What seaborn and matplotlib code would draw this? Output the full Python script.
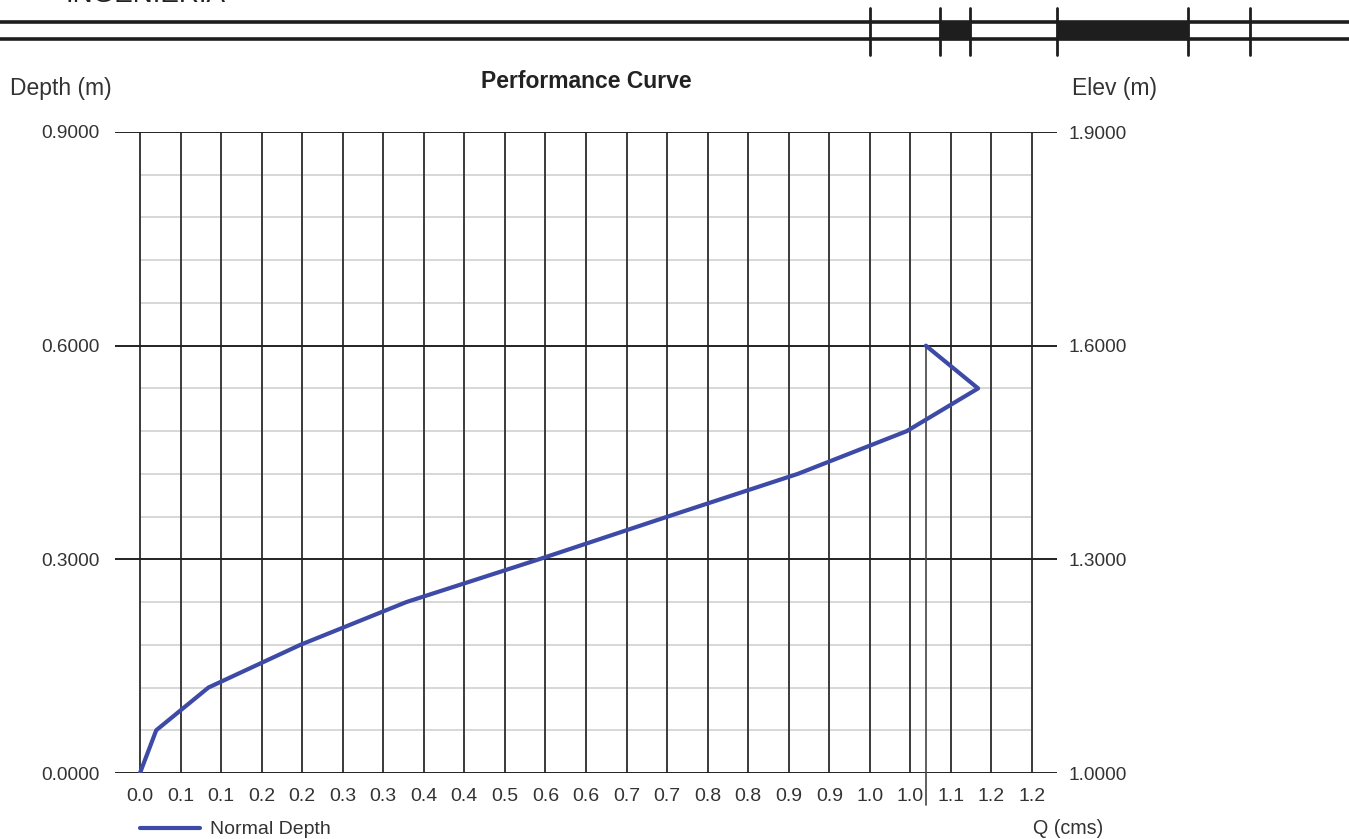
import matplotlib
matplotlib.use("Agg")
import matplotlib.pyplot as plt
import seaborn as sns
import pandas as pd

# rating curve
q_cms = [0.0, 0.022, 0.093, 0.218, 0.362, 0.542, 0.717, 0.894, 1.042, 1.139, 1.068]
depth_m = [0.0, 0.06, 0.12, 0.18, 0.24, 0.30, 0.36, 0.42, 0.48, 0.54, 0.60]
q_marker = 1.068

q_step = 0.0551
q_labels = ["0.0", "0.1", "0.1", "0.2", "0.2", "0.3", "0.3", "0.4", "0.4", "0.5", "0.6", "0.6",
            "0.7", "0.7", "0.8", "0.8", "0.9", "0.9", "1.0", "1.0", "1.1", "1.2", "1.2"]
depth_major = [0.0, 0.3, 0.6, 0.9]
depth_minor = [0.06, 0.12, 0.18, 0.24, 0.36, 0.42, 0.48, 0.54, 0.66, 0.72, 0.78, 0.84]
elev_ticks = [1.0, 1.3, 1.6, 1.9]


def plot_curve():
    sns.set_style("white")
    plt.rcParams["font.family"] = ["Liberation Sans", "DejaVu Sans"]
    txt = "#333333"

    fig = plt.figure(figsize=(13.49, 8.39), dpi=100)
    ax = fig.add_axes([115 / 1349, 1 - 773 / 839, 942 / 1349, 641 / 839])

    q_ticks = [i * q_step for i in range(len(q_labels))]
    qmax = q_ticks[-1]

    # grid
    for q in q_ticks:
        ax.plot([q, q], [0, 0.9], color="#3a3a3a", lw=1.4, zorder=1)
    ax.hlines(depth_minor, 0, qmax, color="#d4d4d4", lw=1.3, zorder=0.5)
    for d in depth_major:
        ax.axhline(d, color="#222222", lw=1.4, zorder=1)

    df = pd.DataFrame({"Q (cms)": q_cms, "Depth (m)": depth_m})
    sns.lineplot(data=df, x="Q (cms)", y="Depth (m)", sort=False, estimator=None,
                 color="#3d4ba6", lw=3, ax=ax, zorder=3)
    ax.plot([q_marker, q_marker], [depth_m[-1], -0.045], color="#444444", lw=1.2,
            clip_on=False, zorder=2)

    ax.set_xlim(-25 / 40.5 * q_step, qmax + 25 / 40.5 * q_step)
    ax.set_ylim(0, 0.9)
    ax.set_xticks(q_ticks)
    ax.set_xticklabels(q_labels)
    ax.set_yticks(depth_major)
    ax.set_yticklabels(["%.4f" % d for d in depth_major])
    ax.tick_params(axis="x", length=0, pad=11, labelsize=14, labelcolor=txt)
    ax.tick_params(axis="y", length=0, pad=11, labelsize=13.7, labelcolor=txt)
    ax.set_xlabel("")
    ax.set_ylabel("")
    for s in ax.spines.values():
        s.set_visible(False)

    ax2 = ax.twinx()
    ax2.set_ylim(1.0, 1.9)
    ax2.set_yticks(elev_ticks)
    ax2.set_yticklabels(["%.4f" % e for e in elev_ticks])
    ax2.tick_params(axis="y", length=0, pad=8, labelsize=13.7, labelcolor=txt)
    for s in ax2.spines.values():
        s.set_visible(False)

    # labels
    fig.text(10 / 1349, 1 - 88 / 839, "Depth (m)", fontsize=16.5, color=txt, va="center")
    fig.text(1072 / 1349, 1 - 88 / 839, "Elev (m)", fontsize=16.5, color=txt, va="center")
    fig.text(586 / 1349, 1 - 81 / 839, "Performance Curve", fontsize=16.5, fontweight="bold",
             color="#222222", ha="center", va="center")
    fig.text(1103 / 1349, 1 - 829 / 839, "Q (cms)", fontsize=14.2, color=txt, ha="right", va="center")
    fig.add_artist(plt.Line2D([140 / 1349, 200 / 1349], [1 - 828 / 839] * 2,
                              color="#3d4ba6", lw=3))
    fig.text(210 / 1349, 1 - 829 / 839, "Normal Depth", fontsize=14, color=txt, va="center")

    # page header strip (text is cut by the top edge, as in the source)
    fig.text(65 / 1349, 1 + 5.5 / 839, "INGENIERIA", fontsize=20, color="#222222",
             va="center", ha="left")
    for y in (22, 39):
        fig.add_artist(plt.Line2D([0, 1], [1 - y / 839] * 2, color="#1e1e1e", lw=2.6))
    for x in (870, 940, 970, 1057, 1188, 1250):
        fig.add_artist(plt.Line2D([x / 1349] * 2, [1 - 8 / 839, 1 - 55 / 839],
                                  color="#1e1e1e", lw=2))
    for x0, x1 in ((940, 970), (1057, 1188)):
        fig.add_artist(plt.Rectangle((x0 / 1349, 1 - 39 / 839), (x1 - x0) / 1349, 17 / 839,
                                     color="#1e1e1e", transform=fig.transFigure))

    fig.savefig("out.png", dpi=100)


if __name__ == "__main__":
    plot_curve()
